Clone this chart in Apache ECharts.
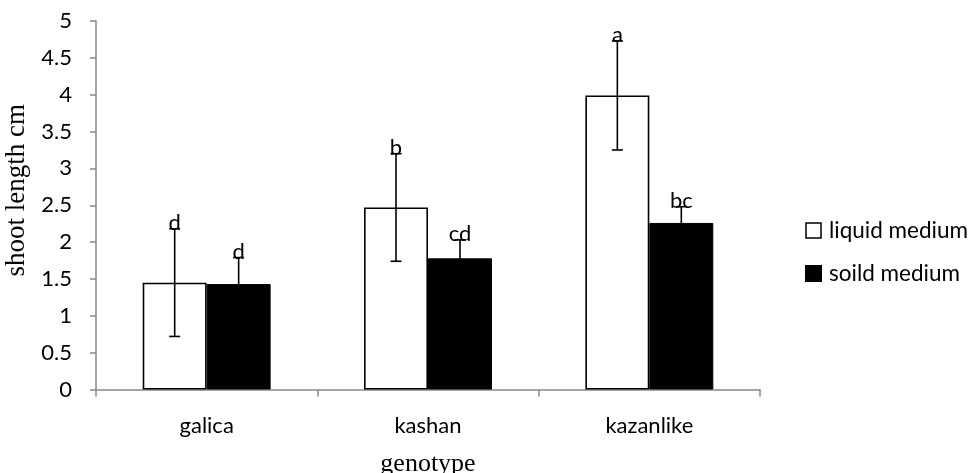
<!DOCTYPE html>
<html><head><meta charset="utf-8">
<script src="https://cdn.jsdelivr.net/npm/echarts@6/dist/echarts.min.js"></script>
<style>html,body{margin:0;padding:0;background:#fff}#c{width:971px;height:473px}</style>
</head><body><div id="c"></div>
<script>
const categories = ['galica', 'kashan', 'kazanlike'];
const seriesNames = ['liquid medium', 'soild medium'];
const liquidValues = [1.45, 2.47, 3.99];
const solidValues = [1.43, 1.78, 2.26];
const liquidErrors = [0.73, 0.73, 0.74];
const solidErrors = [0.36, 0.25, 0.22];
const liquidLetters = ['d', 'b', 'a'];
const solidLetters = ['d', 'cd', 'bc'];
const yTicks = [0, 0.5, 1, 1.5, 2, 2.5, 3, 3.5, 4, 4.5, 5];

const BAR_RATIO = 0.289;
const sans = 'Lato';

function errData(vals, errs, letters) {
  return vals.map((v, i) => [i, v, errs[i], letters[i]]);
}
function errSeries(vals, errs, letters, side) {
  return {
    type: 'custom', z: 10,
    data: errData(vals, errs, letters),
    renderItem: function (params, api) {
      const i = api.value(0), v = api.value(1), e = api.value(2);
      const catW = api.size([1, 0])[0];
      const bw = catW * BAR_RATIO;
      const c = api.coord([i, v]);
      const x = c[0] + side * bw / 2;
      const top = api.coord([i, v + e])[1];
      const bot = api.coord([i, v - e])[1];
      const cap = 5.5;
      const st = { stroke: '#000', lineWidth: 1.6 };
      return {
        type: 'group', children: [
          { type: 'line', shape: { x1: x, y1: top, x2: x, y2: bot }, style: st },
          { type: 'line', shape: { x1: x - cap, y1: top, x2: x + cap, y2: top }, style: st },
          { type: 'line', shape: { x1: x - cap, y1: bot, x2: x + cap, y2: bot }, style: st },
          { type: 'text', style: { text: letters[i], x: x, y: top + 5, align: 'center', verticalAlign: 'bottom',
              font: '22px ' + sans, fill: '#000' } }
        ]
      };
    }
  };
}

const chart = echarts.init(document.getElementById('c'));
chart.setOption({
  animation: false,
  backgroundColor: '#fff',
  grid: { left: 96, right: 211, top: 21, bottom: 83.5, containLabel: false, outerBoundsMode: 'none' },
  legend: {
    orient: 'vertical', left: 800, top: 214, itemWidth: 15, itemHeight: 15, itemGap: 20, icon: 'rect',
    textStyle: { fontFamily: sans, fontSize: 22.5, color: '#000', padding: [0, 0, 0, 3] },
    data: [
      { name: seriesNames[0], itemStyle: { color: '#fff', borderColor: '#000', borderWidth: 1.5 } },
      { name: seriesNames[1], itemStyle: { color: '#000' } }
    ]
  },
  xAxis: {
    type: 'category', data: categories,
    name: 'genotype', nameLocation: 'middle', nameGap: 62,
    nameTextStyle: { fontFamily: 'Liberation Serif', fontSize: 26, color: '#000' },
    axisLine: { lineStyle: { color: '#888', width: 1.5 } },
    axisTick: { show: true, length: 7, lineStyle: { color: '#888', width: 1.5 } },
    axisLabel: { fontFamily: sans, fontSize: 22, color: '#000', margin: 25 }
  },
  yAxis: {
    type: 'value', min: 0, max: 5, interval: 0.5,
    name: 'shoot length cm', nameLocation: 'middle', nameGap: 66,
    nameTextStyle: { fontFamily: 'Liberation Serif', fontSize: 27, color: '#000', padding: [0, 0, 0, 30] },
    splitLine: { show: false },
    axisLine: { show: true, lineStyle: { color: '#888', width: 1.5 } },
    axisTick: { show: true, length: 6, lineStyle: { color: '#888', width: 1.5 } },
    axisLabel: { fontFamily: sans, fontSize: 22, color: '#000', margin: 24,
      formatter: v => yTicks.includes(v) ? String(v) : '' }
  },
  series: [
    { name: seriesNames[0], type: 'bar', data: liquidValues, barWidth: (BAR_RATIO * 100) + '%', barGap: '0%',
      itemStyle: { color: '#fff', borderColor: '#000', borderWidth: 1.6 } },
    { name: seriesNames[1], type: 'bar', data: solidValues, barWidth: (BAR_RATIO * 100) + '%', barGap: '0%',
      itemStyle: { color: '#000', borderColor: '#000', borderWidth: 1 } },
    errSeries(liquidValues, liquidErrors, liquidLetters, -1),
    errSeries(solidValues, solidErrors, solidLetters, 1)
  ]
});
</script></body></html>
